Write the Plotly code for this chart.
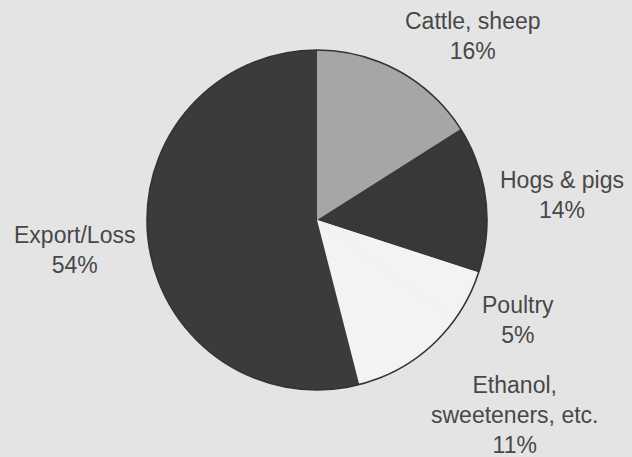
import plotly.graph_objects as go

# Corn use shares (percent)
categories = ["Cattle, sheep", "Hogs & pigs", "Poultry", "Ethanol,<br>sweeteners, etc.", "Export/Loss"]
shares = [16, 14, 5, 11, 54]
slice_colors = ["#a6a6a6", "#383838", "#f3f3f3", "#f3f3f3", "#3b3b3b"]

# Label anchor points (pixel positions on the 632x457 canvas)
label_x = [473, 562, 518, 514, 74]
label_y = [36, 195, 320, 415, 250]

W, H = 632, 457
cx, cy, r = 317, 220, 170

domain_x = [(cx - r) / W, (cx + r) / W]
domain_y = [1 - (cy + r) / H, 1 - (cy - r) / H]

fig = go.Figure()

fig.add_trace(go.Pie(
    labels=categories,
    values=shares,
    sort=False,
    direction="clockwise",
    rotation=0,
    marker=dict(colors=slice_colors, line=dict(width=0)),
    textinfo="none",
    hoverinfo="label+percent",
    showlegend=False,
    domain=dict(x=domain_x, y=domain_y),
))

# Thin outer rim around the whole pie
fig.add_trace(go.Pie(
    labels=["rim"],
    values=[1],
    marker=dict(colors=["rgba(0,0,0,0)"], line=dict(color="#333333", width=1.6)),
    textinfo="none",
    hoverinfo="skip",
    showlegend=False,
    domain=dict(x=domain_x, y=domain_y),
))

for name, val, lx, ly in zip(categories, shares, label_x, label_y):
    fig.add_annotation(
        text=f"{name}<br>{val}%",
        x=lx / W, y=1 - ly / H,
        xref="paper", yref="paper",
        xanchor="center", yanchor="middle",
        showarrow=False,
        align="center",
        font=dict(family="Liberation Sans, Arial, sans-serif", size=23, color="#484848"),
    )

fig.update_layout(
    width=W, height=H,
    margin=dict(l=0, r=0, t=0, b=0),
    paper_bgcolor="#e4e4e4",
    plot_bgcolor="#e4e4e4",
)

fig.write_html("out.html")
